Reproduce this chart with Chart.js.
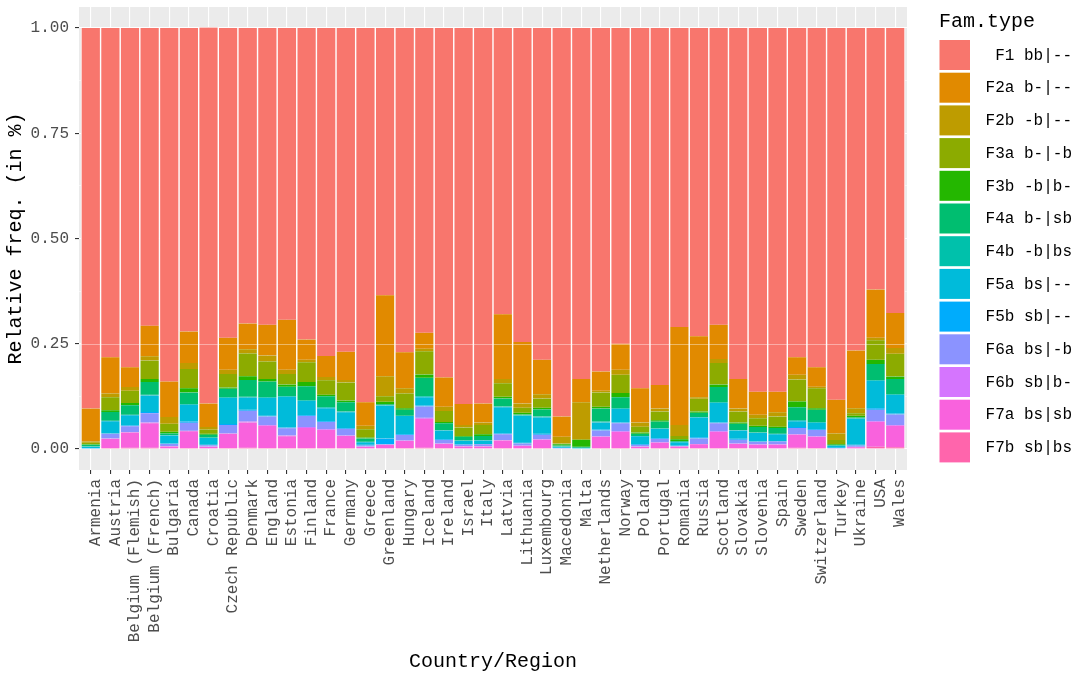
<!DOCTYPE html>
<html lang="en">
<head>
<meta charset="UTF-8">
<title>Family types by country</title>
<script src="https://cdn.jsdelivr.net/npm/chart.js@4.4.1/dist/chart.umd.min.js"></script>
<style>
  html, body { margin: 0; padding: 0; background: #fff; }
  #wrap { width: 1084px; height: 677px; }
</style>
</head>
<body>
<div id="wrap"><canvas id="myChart" width="1084" height="677"></canvas></div>
<script>
// categories
var countries = ["Armenia", "Austria", "Belgium (Flemish)", "Belgium (French)", "Bulgaria", "Canada",
  "Croatia", "Czech Republic", "Denmark", "England", "Estonia", "Finland", "France", "Germany",
  "Greece", "Greenland", "Hungary", "Iceland", "Ireland", "Israel", "Italy", "Latvia", "Lithuania",
  "Luxembourg", "Macedonia", "Malta", "Netherlands", "Norway", "Poland", "Portugal", "Romania",
  "Russia", "Scotland", "Slovakia", "Slovenia", "Spain", "Sweden", "Switzerland", "Turkey",
  "Ukraine", "USA", "Wales"];

var famTypes = ["F1 bb|--", "F2a b-|--", "F2b -b|--", "F3a b-|-b", "F3b -b|b-", "F4a b-|sb",
  "F4b -b|bs", "F5a bs|--", "F5b sb|--", "F6a bs|-b", "F6b sb|b-", "F7a bs|sb", "F7b sb|bs"];

var famColors = ["#F8766D", "#E18A00", "#BE9C00", "#8CAB00", "#24B700", "#00BE70", "#00C1AB",
  "#00BBDA", "#00ACFC", "#8B93FF", "#D575FE", "#F962DD", "#FF65AC"];

// relative frequencies, one value per country (same order as countries)
var f1  = [0.904,0.782,0.806,0.707,0.840,0.721,0.893,0.736,0.702,0.705,0.693,0.740,0.779,0.769,0.889,0.635,0.770,0.724,0.830,0.893,0.892,0.680,0.746,0.788,0.923,0.834,0.816,0.750,0.856,0.848,0.710,0.732,0.705,0.834,0.864,0.864,0.782,0.806,0.883,0.766,0.621,0.677];
var f2a = [0.078,0.086,0.047,0.073,0.084,0.075,0.056,0.076,0.061,0.073,0.119,0.048,0.050,0.067,0.056,0.192,0.086,0.038,0.070,0.050,0.045,0.154,0.146,0.082,0.048,0.055,0.046,0.062,0.081,0.056,0.233,0.145,0.081,0.070,0.055,0.049,0.042,0.046,0.080,0.137,0.115,0.083];
var f2b = [0.003,0.009,0.009,0.010,0.016,0.014,0.006,0.010,0.010,0.014,0.010,0.006,0.008,0.006,0.008,0.048,0.012,0.006,0.010,0.006,0.006,0.010,0.010,0.010,0.016,0.088,0.004,0.012,0.010,0.007,0.026,0.004,0.010,0.007,0.008,0.010,0.011,0.004,0.016,0.012,0.006,0.014];
var f3a = [0.004,0.031,0.029,0.044,0.019,0.046,0.010,0.032,0.054,0.042,0.025,0.047,0.034,0.043,0.020,0.013,0.035,0.055,0.026,0.020,0.022,0.032,0.012,0.022,0.002,0.002,0.034,0.043,0.014,0.021,0.008,0.030,0.051,0.026,0.018,0.024,0.052,0.047,0.009,0.006,0.046,0.054];
var f3b = [0.001,0.004,0.005,0.007,0.004,0.010,0.002,0.003,0.009,0.006,0.005,0.010,0.004,0.004,0.002,0.006,0.004,0.008,0.003,0.002,0.004,0.004,0.004,0.004,0.003,0.016,0.004,0.010,0.003,0.003,0.004,0.003,0.006,0.003,0.003,0.003,0.014,0.004,0.002,0.004,0.010,0.006];
var f4a = [0.004,0.021,0.023,0.030,0.004,0.027,0.007,0.020,0.040,0.037,0.022,0.033,0.026,0.022,0.008,0.002,0.014,0.044,0.016,0.009,0.010,0.019,0.002,0.017,0.002,0.002,0.031,0.026,0.005,0.016,0.002,0.010,0.036,0.015,0.013,0.014,0.031,0.029,0.002,0.002,0.038,0.036];
var f4b = [0.001,0.001,0.001,0.002,0.001,0.002,0.001,0.002,0.002,0.002,0.002,0.002,0.002,0.002,0.001,0.001,0.001,0.002,0.001,0.001,0.001,0.002,0.001,0.002,0.001,0.000,0.002,0.002,0.001,0.001,0.001,0.001,0.002,0.001,0.001,0.001,0.002,0.002,0.001,0.001,0.002,0.002];
var f5a = [0.003,0.029,0.024,0.039,0.019,0.040,0.016,0.062,0.029,0.042,0.073,0.034,0.031,0.037,0.006,0.078,0.043,0.020,0.021,0.008,0.008,0.062,0.064,0.039,0.002,0.002,0.017,0.032,0.018,0.022,0.008,0.047,0.046,0.020,0.020,0.016,0.014,0.015,0.004,0.062,0.065,0.044];
var f5b = [0.001,0.001,0.002,0.003,0.001,0.003,0.001,0.002,0.002,0.002,0.002,0.002,0.002,0.002,0.002,0.014,0.002,0.002,0.002,0.001,0.001,0.002,0.002,0.002,0.001,0.000,0.002,0.002,0.002,0.002,0.001,0.003,0.002,0.002,0.001,0.001,0.002,0.002,0.001,0.002,0.004,0.002];
var f6a = [0.000,0.011,0.014,0.022,0.005,0.019,0.003,0.020,0.026,0.020,0.017,0.026,0.017,0.016,0.002,0.001,0.013,0.027,0.008,0.003,0.004,0.014,0.005,0.011,0.001,0.000,0.014,0.019,0.004,0.008,0.001,0.013,0.019,0.009,0.006,0.007,0.015,0.015,0.001,0.003,0.027,0.025];
var f6b = [0.000,0.001,0.001,0.002,0.001,0.001,0.001,0.001,0.002,0.002,0.002,0.002,0.002,0.001,0.001,0.000,0.001,0.002,0.001,0.001,0.001,0.001,0.001,0.001,0.000,0.000,0.001,0.002,0.001,0.001,0.000,0.001,0.002,0.001,0.001,0.001,0.001,0.001,0.000,0.001,0.002,0.002];
var f7a = [0.001,0.022,0.036,0.058,0.005,0.040,0.004,0.034,0.060,0.053,0.028,0.048,0.043,0.029,0.004,0.009,0.017,0.069,0.010,0.005,0.005,0.018,0.006,0.020,0.001,0.001,0.027,0.038,0.004,0.013,0.004,0.009,0.038,0.010,0.009,0.009,0.031,0.027,0.001,0.003,0.059,0.051];
var f7b = [0.000,0.002,0.003,0.003,0.001,0.002,0.001,0.002,0.003,0.002,0.002,0.002,0.002,0.002,0.001,0.001,0.002,0.003,0.002,0.001,0.001,0.002,0.001,0.002,0.000,0.000,0.002,0.002,0.001,0.002,0.002,0.002,0.002,0.002,0.001,0.001,0.003,0.002,0.000,0.001,0.005,0.004];

// y axis ticks
var yTicks = [0, 0.25, 0.5, 0.75, 1];
var yTickLabels = ["0.00", "0.25", "0.50", "0.75", "1.00"];
var yMinorTicks = [0.125, 0.375, 0.625, 0.875];

var series = [f1, f2a, f2b, f3a, f3b, f4a, f4b, f5a, f5b, f6a, f6b, f7a, f7b];
var mono = "'Courier New', 'Nimbus Mono PS', 'FreeMono', 'Liberation Mono', monospace";

// F7b is stacked at the bottom, F1 on top
var datasets = [];
for (var i = series.length - 1; i >= 0; i--) {
  datasets.push({
    label: famTypes[i],
    data: series[i].map(function (v, j) { return { x: j, y: v }; }),
    backgroundColor: famColors[i],
    borderColor: "#ffffff",
    borderWidth: { left: 1, right: 1, top: 0, bottom: 0 },
    borderSkipped: false,
    inflateAmount: 0.3,
    categoryPercentage: 1,
    barPercentage: 1
  });
}

var panelBg = {
  id: "panelBg",
  beforeDraw: function (chart) {
    var a = chart.chartArea, c = chart.ctx;
    c.save();
    c.fillStyle = "#EBEBEB";
    c.fillRect(a.left, a.top, a.right - a.left, a.bottom - a.top);
    c.restore();
  },
  afterDatasetsDraw: function (chart) {
    // faint line seen across the bars at 0.25
    var a = chart.chartArea, c = chart.ctx;
    var y = Math.round(chart.scales.y.getPixelForValue(0.25)) + 0.5;
    c.save();
    c.strokeStyle = "rgba(255,255,255,0.4)";
    c.lineWidth = 1;
    c.beginPath();
    c.moveTo(a.left, y);
    c.lineTo(a.right, y);
    c.stroke();
    c.restore();
  }
};

var sideLegend = {
  id: "sideLegend",
  afterDraw: function (chart) {
    var c = chart.ctx;
    c.save();
    c.fillStyle = "#000";
    c.textAlign = "left";
    c.textBaseline = "middle";
    c.font = "20px " + mono;
    c.fillText("Fam.type", 939, 22);
    c.font = "16px " + mono;
    c.textAlign = "right";
    for (var k = 0; k < famTypes.length; k++) {
      var y0 = 40 + k * 32.7;
      c.fillStyle = famColors[k];
      c.fillRect(939.5, y0, 30.5, 30);
      c.fillStyle = "#000";
      c.fillText(famTypes[k], 1072, y0 + 15.5);
    }
    c.restore();
  }
};

function isMajor(v) { return yTicks.indexOf(v) >= 0; }

var ctx = document.getElementById("myChart").getContext("2d");
var myChart = new Chart(ctx, {
  type: "bar",
  data: { datasets: datasets },
  plugins: [panelBg, sideLegend],
  options: {
    responsive: false,
    animation: false,
    layout: { padding: { left: 0, top: 7, right: 177, bottom: 0 } },
    plugins: { legend: { display: false }, tooltip: { enabled: false } },
    scales: {
      x: {
        type: "linear",
        stacked: true,
        offset: false,
        min: -0.6,
        max: countries.length - 1 + 0.6,
        afterBuildTicks: function (s) {
          s.ticks = countries.map(function (c, i) { return { value: i }; });
        },
        afterFit: function (s) {
          s.height = 207;
          s.paddingLeft = 0;
          s.paddingRight = 0;
        },
        ticks: {
          autoSkip: false,
          maxRotation: 90,
          minRotation: 90,
          padding: 5,
          labelOffset: 5,
          color: "#4D4D4D",
          font: { family: mono, size: 16 },
          callback: function (v) { return countries[v]; }
        },
        grid: { offset: false, color: "#ffffff", lineWidth: 1.1, tickLength: 4, tickColor: "#333333", tickWidth: 1.1 },
        border: { display: false },
        title: {
          display: true,
          text: "Country/Region",
          color: "#000",
          font: { family: mono, size: 20 },
          padding: { top: 0, bottom: 3 }
        }
      },
      y: {
        stacked: true,
        min: -0.05,
        max: 1.05,
        afterBuildTicks: function (s) {
          s.ticks = yTicks.concat(yMinorTicks).sort().map(function (v) { return { value: v }; });
        },
        afterFit: function (s) {
          s.width = 79;
          s.paddingTop = 0;
          s.paddingBottom = 0;
        },
        ticks: {
          padding: 6,
          color: "#4D4D4D",
          font: { family: mono, size: 16 },
          callback: function (v) {
            var k = yTicks.indexOf(v);
            return k < 0 ? "" : yTickLabels[k];
          }
        },
        grid: {
          color: "#ffffff",
          lineWidth: function (c) { return c.tick && isMajor(c.tick.value) ? 1.1 : 0.55; },
          tickLength: 4,
          tickWidth: 1.1,
          tickColor: function (c) { return c.tick && isMajor(c.tick.value) ? "#333333" : "rgba(0,0,0,0)"; }
        },
        border: { display: false },
        title: {
          display: true,
          text: "Relative freq. (in %)",
          color: "#000",
          font: { family: mono, size: 20 },
          padding: { top: 4, bottom: 0 }
        }
      }
    }
  }
});
</script>
</body>
</html>
